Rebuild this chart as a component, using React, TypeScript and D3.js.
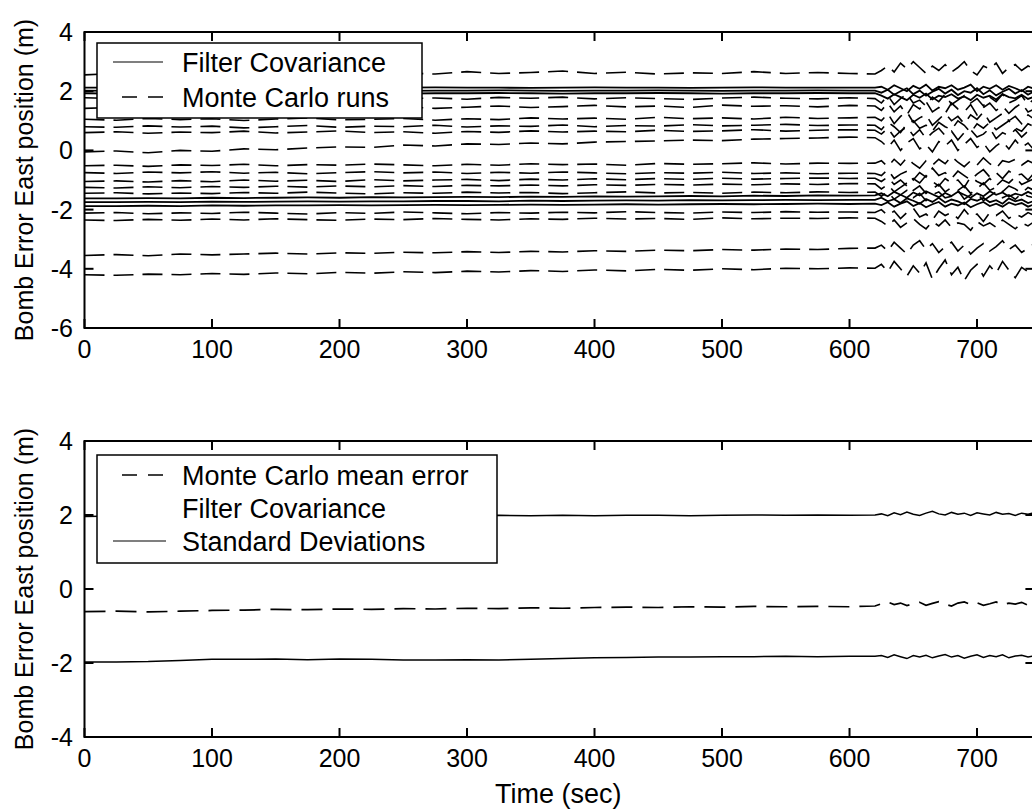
import React from "react";
import * as d3 from "d3";

// ---------- data ----------
const T = [0,25,50,75,100,125,150,175,200,225,250,275,300,325,350,375,400,425,450,475,500,525,550,575,600,620,
  625,630,635,640,645,650,655,660,665,670,675,680,685,690,695,700,705,710,715,720,725,730,735,740,745];

const xTicks = [0,100,200,300,400,500,600,700];
const yTicksTop = [-6,-4,-2,0,2,4];
const yTicksBot = [-4,-2,0,2,4];

// Monte Carlo runs (top panel, dashed)
const run01 = [2.55,2.6,2.58,2.62,2.6,2.57,2.63,2.6,2.65,2.6,2.62,2.58,2.66,2.6,2.63,2.68,2.6,2.64,2.58,2.62,2.6,2.66,2.6,2.63,2.6,2.58,
  2.7,2.85,2.65,2.95,2.75,3.0,2.8,2.6,2.85,2.7,2.9,2.65,2.8,3.0,2.7,2.55,2.85,2.75,2.95,2.6,2.8,2.9,2.7,2.85,2.75];
const run02 = [1.78,1.75,1.8,1.76,1.74,1.79,1.77,1.72,1.78,1.8,1.75,1.77,1.73,1.79,1.76,1.8,1.74,1.78,1.75,1.72,1.77,1.8,1.76,1.74,1.78,1.75,
  1.6,1.85,1.55,1.75,1.9,1.6,1.7,1.5,1.8,1.65,1.9,1.55,1.7,1.85,1.6,1.75,1.5,1.8,1.65,1.9,1.6,1.7,1.85,1.55,1.75];
const run03 = [1.42,1.45,1.4,1.46,1.44,1.48,1.43,1.45,1.5,1.44,1.47,1.42,1.46,1.5,1.45,1.48,1.52,1.47,1.5,1.45,1.53,1.49,1.51,1.47,1.52,1.5,
  1.35,1.6,1.3,1.5,1.2,1.55,1.4,1.65,1.3,1.45,1.25,1.6,1.4,1.3,1.55,1.2,1.45,1.6,1.35,1.5,1.25,1.45,1.6,1.3,1.4];
const run04 = [1.05,1.02,1.08,1.04,1.07,1.01,1.06,1.1,1.03,1.05,1.08,1.02,1.07,1.04,1.1,1.06,1.09,1.05,1.12,1.07,1.1,1.06,1.12,1.08,1.1,1.12,
  1.0,1.25,0.9,1.15,1.3,0.95,1.1,1.2,0.85,1.05,1.25,1.0,1.15,0.9,1.2,1.05,1.3,0.95,1.1,1.25,1.0,1.15,0.9,1.2,1.05];
const run05 = [0.8,0.78,0.83,0.79,0.82,0.76,0.8,0.84,0.78,0.82,0.8,0.85,0.79,0.83,0.81,0.86,0.8,0.84,0.82,0.87,0.83,0.85,0.88,0.84,0.86,0.85,
  0.7,0.95,0.8,0.6,0.9,1.0,0.75,0.85,0.65,0.95,0.8,0.7,1.0,0.85,0.6,0.9,0.75,0.95,0.7,0.85,1.0,0.75,0.65,0.9,0.8];
const run06 = [0.6,0.63,0.58,0.62,0.6,0.65,0.59,0.62,0.66,0.6,0.63,0.58,0.64,0.61,0.66,0.62,0.65,0.63,0.68,0.64,0.66,0.7,0.65,0.68,0.7,0.68,
  0.55,0.75,0.45,0.65,0.8,0.5,0.7,0.4,0.6,0.75,0.5,0.65,0.35,0.6,0.7,0.45,0.55,0.75,0.4,0.6,0.5,0.7,0.45,0.65,0.55];
const run07 = [-0.05,-0.02,-0.08,0.0,-0.03,0.05,0.02,0.08,0.12,0.1,0.18,0.15,0.22,0.2,0.25,0.22,0.28,0.3,0.32,0.35,0.33,0.38,0.4,0.42,0.45,0.43,
  0.3,0.1,0.35,0.0,0.25,0.4,0.05,0.2,-0.05,0.3,0.15,0.35,0.0,0.2,0.4,0.1,0.25,-0.05,0.15,0.3,0.05,0.35,0.1,0.25,0.0];
const run08 = [-0.52,-0.5,-0.54,-0.49,-0.51,-0.47,-0.52,-0.48,-0.5,-0.46,-0.49,-0.52,-0.47,-0.5,-0.45,-0.48,-0.46,-0.5,-0.44,-0.47,-0.45,-0.42,-0.46,-0.43,-0.44,-0.43,
  -0.35,-0.55,-0.3,-0.5,-0.25,-0.45,-0.6,-0.35,-0.5,-0.3,-0.45,-0.2,-0.4,-0.55,-0.35,-0.5,-0.25,-0.45,-0.6,-0.35,-0.4,-0.3,-0.5,-0.35,-0.45];
const run09 = [-0.75,-0.78,-0.73,-0.76,-0.72,-0.77,-0.74,-0.79,-0.75,-0.72,-0.76,-0.73,-0.78,-0.74,-0.77,-0.73,-0.76,-0.79,-0.75,-0.77,-0.74,-0.78,-0.76,-0.79,-0.77,-0.78,
  -0.85,-0.65,-0.95,-0.8,-0.7,-1.0,-0.75,-0.9,-0.6,-0.85,-0.75,-0.95,-0.7,-0.85,-1.0,-0.8,-0.65,-0.9,-0.75,-0.95,-0.7,-0.85,-0.8,-1.0,-0.75];
const run10 = [-1.05,-1.03,-1.07,-1.02,-1.06,-1.0,-1.04,-1.01,-1.05,-0.99,-1.03,-1.0,-0.98,-1.02,-0.97,-1.0,-0.96,-0.99,-0.95,-0.98,-0.94,-0.97,-0.95,-0.93,-0.95,-0.94,
  -1.05,-0.9,-1.15,-1.0,-1.2,-0.95,-1.1,-0.85,-1.05,-1.2,-0.95,-1.1,-1.0,-1.25,-0.9,-1.05,-1.15,-0.95,-1.2,-1.0,-1.1,-0.9,-1.15,-1.05,-0.95];
const run11 = [-1.25,-1.27,-1.23,-1.26,-1.22,-1.25,-1.21,-1.24,-1.2,-1.23,-1.19,-1.22,-1.18,-1.2,-1.17,-1.2,-1.16,-1.18,-1.15,-1.17,-1.14,-1.16,-1.13,-1.15,-1.12,-1.13,
  -1.3,-1.15,-1.4,-1.25,-1.1,-1.35,-1.2,-1.45,-1.3,-1.15,-1.4,-1.25,-1.35,-1.2,-1.45,-1.3,-1.1,-1.35,-1.25,-1.4,-1.2,-1.3,-1.45,-1.25,-1.35];
const run12 = [-1.45,-1.43,-1.47,-1.44,-1.46,-1.42,-1.45,-1.41,-1.44,-1.47,-1.43,-1.45,-1.41,-1.44,-1.42,-1.46,-1.43,-1.4,-1.44,-1.42,-1.45,-1.41,-1.43,-1.4,-1.42,-1.41,
  -1.55,-1.4,-1.65,-1.5,-1.35,-1.6,-1.45,-1.7,-1.5,-1.4,-1.6,-1.55,-1.35,-1.65,-1.5,-1.45,-1.7,-1.55,-1.4,-1.6,-1.5,-1.65,-1.45,-1.55,-1.6];
const run13 = [-2.12,-2.1,-2.14,-2.11,-2.13,-2.09,-2.12,-2.15,-2.1,-2.13,-2.08,-2.11,-2.14,-2.1,-2.12,-2.09,-2.11,-2.07,-2.1,-2.12,-2.08,-2.1,-2.07,-2.09,-2.08,-2.1,
  -2.0,-2.2,-2.05,-2.3,-2.1,-1.95,-2.25,-2.15,-2.35,-2.05,-2.2,-2.1,-2.3,-2.0,-2.25,-2.15,-2.4,-2.1,-2.2,-2.05,-2.3,-2.15,-2.25,-2.1,-2.2];
const run14 = [-2.35,-2.37,-2.33,-2.36,-2.32,-2.35,-2.31,-2.34,-2.36,-2.32,-2.34,-2.3,-2.33,-2.35,-2.31,-2.33,-2.29,-2.32,-2.3,-2.33,-2.28,-2.31,-2.29,-2.3,-2.28,-2.29,
  -2.4,-2.55,-2.35,-2.6,-2.45,-2.3,-2.5,-2.65,-2.4,-2.55,-2.35,-2.6,-2.45,-2.5,-2.7,-2.4,-2.55,-2.45,-2.6,-2.35,-2.5,-2.65,-2.45,-2.55,-2.4];
const run15 = [-3.55,-3.52,-3.56,-3.5,-3.53,-3.5,-3.47,-3.5,-3.46,-3.48,-3.44,-3.46,-3.42,-3.45,-3.41,-3.43,-3.39,-3.41,-3.37,-3.39,-3.35,-3.37,-3.33,-3.35,-3.31,-3.3,
  -3.2,-3.4,-3.1,-3.3,-3.5,-3.2,-3.05,-3.35,-3.15,-3.45,-3.25,-3.1,-3.4,-3.2,-3.5,-3.3,-3.15,-3.4,-3.25,-3.05,-3.35,-3.2,-3.45,-3.3,-3.15];
const run16 = [-4.2,-4.22,-4.18,-4.2,-4.16,-4.19,-4.14,-4.17,-4.12,-4.15,-4.1,-4.13,-4.08,-4.11,-4.06,-4.09,-4.04,-4.07,-4.02,-4.05,-4.0,-4.03,-3.98,-4.0,-3.97,-3.98,
  -3.85,-4.1,-3.75,-4.0,-4.25,-3.9,-4.15,-3.8,-4.35,-4.0,-3.7,-4.2,-3.95,-4.4,-4.05,-3.85,-4.25,-3.9,-4.15,-3.75,-4.05,-4.3,-3.95,-4.1,-3.85];

// Filter covariance bounds (top panel, solid)
const cov01 = [2.12,2.12,2.13,2.12,2.11,2.12,2.13,2.12,2.12,2.11,2.12,2.13,2.12,2.12,2.11,2.12,2.13,2.12,2.12,2.11,2.12,2.13,2.12,2.12,2.12,2.12,
  2.15,2.05,2.2,2.1,2.0,2.18,2.08,2.22,2.02,2.15,2.1,2.2,2.05,2.12,2.22,2.0,2.15,2.08,2.2,2.05,2.18,2.1,2.0,2.15,2.08];
const cov02 = [2.02,2.01,2.02,2.03,2.02,2.01,2.02,2.02,2.03,2.02,2.01,2.02,2.02,2.03,2.02,2.01,2.02,2.02,2.03,2.02,2.01,2.02,2.02,2.03,2.02,2.02,
  1.95,2.05,1.88,2.0,2.1,1.9,2.02,1.85,1.98,2.08,1.92,2.05,1.87,2.0,1.95,2.1,1.9,2.03,1.86,1.98,2.08,1.92,2.04,1.88,2.0];
const cov03 = [1.93,1.92,1.93,1.94,1.93,1.92,1.93,1.93,1.94,1.93,1.92,1.93,1.93,1.94,1.93,1.92,1.93,1.93,1.94,1.93,1.92,1.93,1.93,1.94,1.93,1.93,
  1.85,1.75,1.9,1.8,1.7,1.88,1.78,1.92,1.72,1.85,1.8,1.9,1.75,1.82,1.7,1.88,1.78,1.85,1.72,1.9,1.8,1.76,1.88,1.74,1.82];
const cov04 = [-1.62,-1.62,-1.61,-1.62,-1.6,-1.61,-1.6,-1.59,-1.6,-1.58,-1.59,-1.58,-1.57,-1.58,-1.56,-1.57,-1.55,-1.56,-1.55,-1.54,-1.55,-1.53,-1.54,-1.52,-1.53,-1.52,
  -1.45,-1.55,-1.4,-1.5,-1.6,-1.42,-1.52,-1.38,-1.48,-1.58,-1.44,-1.54,-1.4,-1.5,-1.6,-1.45,-1.55,-1.38,-1.5,-1.42,-1.56,-1.46,-1.52,-1.4,-1.5];
const cov05 = [-1.75,-1.75,-1.74,-1.75,-1.73,-1.74,-1.73,-1.72,-1.73,-1.72,-1.72,-1.71,-1.71,-1.72,-1.7,-1.71,-1.7,-1.69,-1.7,-1.68,-1.69,-1.68,-1.67,-1.68,-1.67,-1.67,
  -1.6,-1.72,-1.65,-1.78,-1.62,-1.7,-1.8,-1.64,-1.74,-1.6,-1.76,-1.66,-1.72,-1.82,-1.64,-1.7,-1.6,-1.75,-1.68,-1.8,-1.62,-1.72,-1.66,-1.78,-1.7];
const cov06 = [-1.88,-1.88,-1.87,-1.88,-1.86,-1.87,-1.86,-1.86,-1.85,-1.86,-1.85,-1.84,-1.85,-1.84,-1.83,-1.84,-1.83,-1.82,-1.83,-1.82,-1.81,-1.82,-1.81,-1.8,-1.81,-1.8,
  -1.85,-1.75,-1.9,-1.8,-1.72,-1.88,-1.78,-1.92,-1.82,-1.74,-1.9,-1.8,-1.86,-1.76,-1.92,-1.82,-1.74,-1.88,-1.8,-1.9,-1.76,-1.84,-1.78,-1.9,-1.82];

// Bottom panel
const meanErr = [-0.61,-0.6,-0.62,-0.6,-0.58,-0.57,-0.55,-0.56,-0.54,-0.55,-0.53,-0.54,-0.52,-0.53,-0.51,-0.52,-0.5,-0.49,-0.5,-0.48,-0.49,-0.47,-0.48,-0.47,-0.48,-0.46,
  -0.4,-0.35,-0.42,-0.38,-0.45,-0.4,-0.36,-0.44,-0.39,-0.34,-0.41,-0.46,-0.38,-0.35,-0.42,-0.37,-0.44,-0.4,-0.35,-0.43,-0.38,-0.41,-0.36,-0.44,-0.39];
const stdUpper = [1.96,1.97,1.96,1.97,1.97,1.98,1.97,1.98,1.97,1.98,1.98,1.97,1.98,1.99,1.98,1.99,1.98,1.99,1.99,1.98,1.99,2.0,1.99,2.0,1.99,2.0,
  2.03,1.98,2.06,2.01,2.08,2.02,1.99,2.05,2.1,2.03,2.0,2.07,2.02,2.05,1.99,2.06,2.03,2.0,2.07,2.02,2.04,1.99,2.05,2.02,2.06];
const stdLower = [-1.97,-1.97,-1.96,-1.93,-1.9,-1.9,-1.89,-1.91,-1.89,-1.9,-1.92,-1.92,-1.91,-1.92,-1.9,-1.88,-1.86,-1.85,-1.84,-1.84,-1.83,-1.83,-1.82,-1.83,-1.82,-1.82,
  -1.8,-1.85,-1.78,-1.83,-1.88,-1.8,-1.84,-1.79,-1.86,-1.81,-1.77,-1.84,-1.8,-1.87,-1.82,-1.78,-1.85,-1.8,-1.83,-1.78,-1.86,-1.81,-1.79,-1.84,-1.8];

const mcRuns = [run01,run02,run03,run04,run05,run06,run07,run08,run09,run10,run11,run12,run13,run14,run15,run16];
const covLines = [cov01,cov02,cov03,cov04,cov05,cov06];

const legendTop = ["Filter Covariance", "Monte Carlo runs"];
const legendBot = ["Monte Carlo mean error", "Filter Covariance", "Standard Deviations"];
const yLabel = "Bomb Error East position (m)";
const xLabel = "Time (sec)";

// ---------- layout ----------
const W = 1032, H = 810;
const FONT = "'Liberation Sans', Arial, Helvetica, sans-serif";
const x = d3.scaleLinear().domain([0, 745]).range([84.5, 1034.4]);
const yTop = d3.scaleLinear().domain([-6, 4]).range([328, 32]);
const yBot = d3.scaleLinear().domain([-4, 4]).range([737, 441]);

function mkLine(y: d3.ScaleLinear<number, number>) {
  return d3.line<number>().x((_, i) => x(T[i])).y((d) => y(d));
}

function Axes({ y, ticks, id }: { y: d3.ScaleLinear<number, number>; ticks: number[]; id: string }) {
  const [x0, x1] = x.range();
  const [yb, yt] = y.range();
  const tl = 9;
  return (
    <g>
      <rect x={x0} y={yt} width={x1 - x0} height={yb - yt} fill="none" stroke="#000" strokeWidth={2} />
      {xTicks.map((t) => (
        <g key={id + "x" + t}>
          <line x1={x(t)} x2={x(t)} y1={yb} y2={yb - tl} stroke="#000" strokeWidth={2} />
          <line x1={x(t)} x2={x(t)} y1={yt} y2={yt + tl} stroke="#000" strokeWidth={2} />
          <text x={x(t)} y={yb + 30} textAnchor="middle" fontSize={25} fontFamily={FONT}>{t}</text>
        </g>
      ))}
      {ticks.map((t) => (
        <g key={id + "y" + t}>
          <line x1={x0} x2={x0 + tl} y1={y(t)} y2={y(t)} stroke="#000" strokeWidth={2} />
          <line x1={x1} x2={x1 - tl} y1={y(t)} y2={y(t)} stroke="#000" strokeWidth={2} />
          <text x={73} y={y(t)} dy="0.36em" textAnchor="end" fontSize={25} fontFamily={FONT}>{t}</text>
        </g>
      ))}
      <text transform={`translate(33,${(yb + yt) / 2}) rotate(-90)`} textAnchor="middle" fontSize={25} fontFamily={FONT}>{yLabel}</text>
    </g>
  );
}

export default function App() {
  const lt = mkLine(yTop);
  const lb = mkLine(yBot);
  const [x0, x1] = x.range();
  return (
    <div style={{ position: "absolute", left: 0, top: 0 }}>
      <svg width={W} height={H} viewBox={`0 0 ${W} ${H}`} style={{ display: "block", background: "#fff" }}>
        <defs>
          <clipPath id="cTop"><rect x={x0} y={yTop.range()[1]} width={x1 - x0} height={yTop.range()[0] - yTop.range()[1]} /></clipPath>
          <clipPath id="cBot"><rect x={x0} y={yBot.range()[1]} width={x1 - x0} height={yBot.range()[0] - yBot.range()[1]} /></clipPath>
        </defs>
        <rect x={0} y={0} width={W} height={H} fill="#fff" />

        {/* top panel */}
        <g clipPath="url(#cTop)">
          {mcRuns.map((r, i) => (
            <path key={"r" + i} d={lt(r) || ""} fill="none" stroke="#000" strokeWidth={1.6} strokeDasharray="20,9" />
          ))}
          {covLines.map((r, i) => (
            <path key={"c" + i} d={lt(r) || ""} fill="none" stroke="#000" strokeWidth={1.8} />
          ))}
        </g>
        <Axes y={yTop} ticks={yTicksTop} id="top" />
        <g>
          <rect x={97} y={43} width={325} height={75} fill="#fff" stroke="#000" strokeWidth={1.5} />
          <line x1={113} x2={163} y1={62} y2={62} stroke="#000" strokeWidth={1.2} />
          <line x1={122} x2={163} y1={97} y2={97} stroke="#000" strokeWidth={1.5} strokeDasharray="15,11" />
          {legendTop.map((s, i) => (
            <text key={s} x={182} y={62 + i * 35} dy="0.36em" fontSize={27} fontFamily={FONT}>{s}</text>
          ))}
        </g>

        {/* bottom panel */}
        <g clipPath="url(#cBot)">
          <path d={lb(meanErr) || ""} fill="none" stroke="#000" strokeWidth={1.7} strokeDasharray="21,10" />
          <path d={lb(stdUpper) || ""} fill="none" stroke="#000" strokeWidth={1.5} />
          <path d={lb(stdLower) || ""} fill="none" stroke="#000" strokeWidth={1.5} />
        </g>
        <Axes y={yBot} ticks={yTicksBot} id="bot" />
        <g>
          <rect x={97} y={455} width={400} height={108} fill="#fff" stroke="#000" strokeWidth={1.5} />
          <line x1={122} x2={167} y1={475} y2={475} stroke="#000" strokeWidth={1.5} strokeDasharray="15,11" />
          <line x1={113} x2={166} y1={541} y2={541} stroke="#000" strokeWidth={1.2} />
          {legendBot.map((s, i) => (
            <text key={s} x={182} y={475 + i * 33} dy="0.36em" fontSize={27} fontFamily={FONT}>{s}</text>
          ))}
        </g>
        <text x={(x0 + 1032) / 2} y={803} textAnchor="middle" fontSize={27} fontFamily={FONT}>{xLabel}</text>
      </svg>
    </div>
  );
}
